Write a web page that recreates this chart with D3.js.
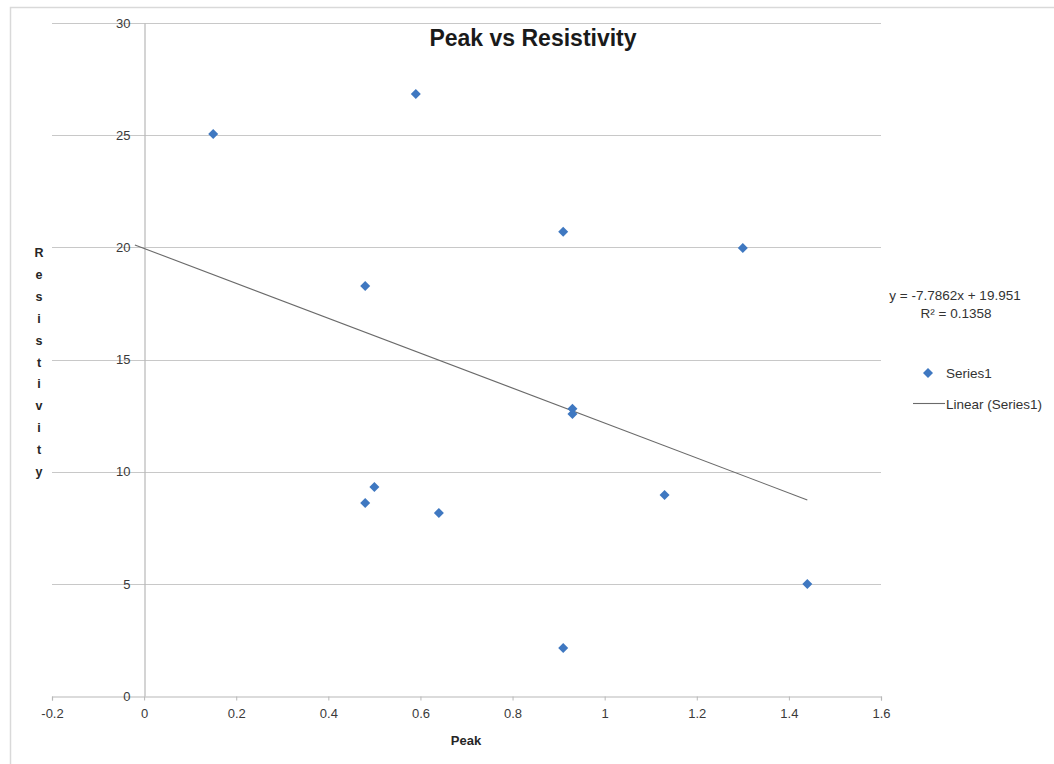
<!DOCTYPE html>
<html><head><meta charset="utf-8">
<script src="https://cdn.jsdelivr.net/npm/d3@7"></script>
<style>body{margin:0;background:#fff;} svg{display:block;}</style>
</head><body>
<svg id="chart" width="1054" height="764"></svg>
<script>
const peak = [0.15, 0.59, 0.91, 1.30, 0.48, 0.93, 0.93, 1.13, 0.50, 0.48, 0.64, 1.44, 0.91];
const resistivity = [25.05, 26.84, 20.69, 19.97, 18.28, 12.80, 12.57, 8.96, 9.32, 8.60, 8.16, 4.99, 2.14];
const xTicks = [-0.2, 0, 0.2, 0.4, 0.6, 0.8, 1, 1.2, 1.4, 1.6];
const yTicks = [0, 5, 10, 15, 20, 25, 30];
const trendSlope = -7.7862, trendIntercept = 19.951, rSquared = 0.1358;
const trendRange = [-0.02, 1.44];
const titleText = "Peak vs Resistivity", xTitle = "Peak", yTitle = "Resistivity";
const seriesName = "Series1", trendName = "Linear (Series1)";

const svg = d3.select("#chart");
const font = "'Liberation Sans', Arial, sans-serif";
const x = d3.scaleLinear().domain([-0.2, 1.6]).range([52, 881]);
const y = d3.scaleLinear().domain([0, 30]).range([696, 23]);

// frame
svg.append("path").attr("d", "M10.5,764 V7.5 H1054").attr("fill", "none").attr("stroke", "#d9d9d9").attr("stroke-width", 1.5);

// gridlines
svg.append("g").selectAll("line").data(yTicks.filter(d => d !== 0)).join("line")
  .attr("x1", x(-0.2)).attr("x2", x(1.6)).attr("y1", d => Math.round(y(d)) + 0.5).attr("y2", d => Math.round(y(d)) + 0.5)
  .attr("stroke", "#c8c8c8").attr("stroke-width", 1.2);

// x axis
const xAxis = d3.axisBottom(x).tickValues(xTicks).tickSize(4).tickPadding(8).tickFormat(d => String(d));
const gx = svg.append("g").attr("transform", `translate(0,${Math.round(y(0)) + 0.5})`).call(xAxis);
gx.select(".domain").attr("stroke", "#b8b8b8").attr("stroke-width", 1.2);
gx.selectAll(".tick line").attr("stroke", "#b8b8b8");
gx.selectAll(".tick text").attr("font-family", font).attr("font-size", 13).attr("fill", "#3a3a3a");

// y axis at x=0
const yAxis = d3.axisLeft(y).tickValues(yTicks).tickSize(0).tickPadding(14).tickFormat(d => String(d));
const gy = svg.append("g").attr("transform", `translate(${Math.round(x(0)) + 0.5},0)`).call(yAxis);
gy.select(".domain").attr("stroke", "#b8b8b8").attr("stroke-width", 1.2);
gy.selectAll(".tick text").attr("font-family", font).attr("font-size", 13).attr("fill", "#3a3a3a");

// trendline
svg.append("line")
  .attr("x1", x(trendRange[0])).attr("y1", y(trendSlope * trendRange[0] + trendIntercept))
  .attr("x2", x(trendRange[1])).attr("y2", y(trendSlope * trendRange[1] + trendIntercept))
  .attr("stroke", "#6a6a6a").attr("stroke-width", 1.1);

// points
const diamond = d3.symbol().type(d3.symbolSquare).size(50);
svg.append("g").selectAll("path").data(peak.map((p, i) => [p, resistivity[i]])).join("path")
  .attr("d", diamond)
  .attr("transform", d => `translate(${x(d[0])},${y(d[1])}) rotate(45)`)
  .attr("fill", "#3f78c1");

// title
svg.append("text").attr("x", 533).attr("y", 46).attr("text-anchor", "middle")
  .attr("font-family", font).attr("font-weight", "bold").attr("font-size", 23).attr("fill", "#1a1a1a").text(titleText);

// x title
svg.append("text").attr("x", 466).attr("y", 745).attr("text-anchor", "middle")
  .attr("font-family", font).attr("font-weight", "bold").attr("font-size", 13).attr("fill", "#262626").text(xTitle);

// y title stacked
svg.append("g").selectAll("text").data(yTitle.split("")).join("text")
  .attr("x", 39).attr("y", (d, i) => 257 + i * 21.9).attr("text-anchor", "middle")
  .attr("font-family", font).attr("font-weight", "bold").attr("font-size", 12.5).attr("fill", "#262626").text(d => d);

// equation
svg.append("text").attr("x", 955).attr("y", 300).attr("text-anchor", "middle")
  .attr("font-family", font).attr("font-size", 13.5).attr("fill", "#333")
  .text(`y = ${trendSlope}x + ${trendIntercept}`);
svg.append("text").attr("x", 956).attr("y", 318).attr("text-anchor", "middle")
  .attr("font-family", font).attr("font-size", 13.5).attr("fill", "#333")
  .text(`R² = ${rSquared}`);

// legend
svg.append("path").attr("d", diamond).attr("transform", "translate(928,373) rotate(45)").attr("fill", "#3f78c1");
svg.append("text").attr("x", 946).attr("y", 378).attr("font-family", font).attr("font-size", 13.5).attr("fill", "#333").text(seriesName);
svg.append("line").attr("x1", 913).attr("x2", 945).attr("y1", 403.5).attr("y2", 403.5).attr("stroke", "#6a6a6a").attr("stroke-width", 1.1);
svg.append("text").attr("x", 946).attr("y", 409).attr("font-family", font).attr("font-size", 13.5).attr("fill", "#333").text(trendName);
</script>
</body></html>
